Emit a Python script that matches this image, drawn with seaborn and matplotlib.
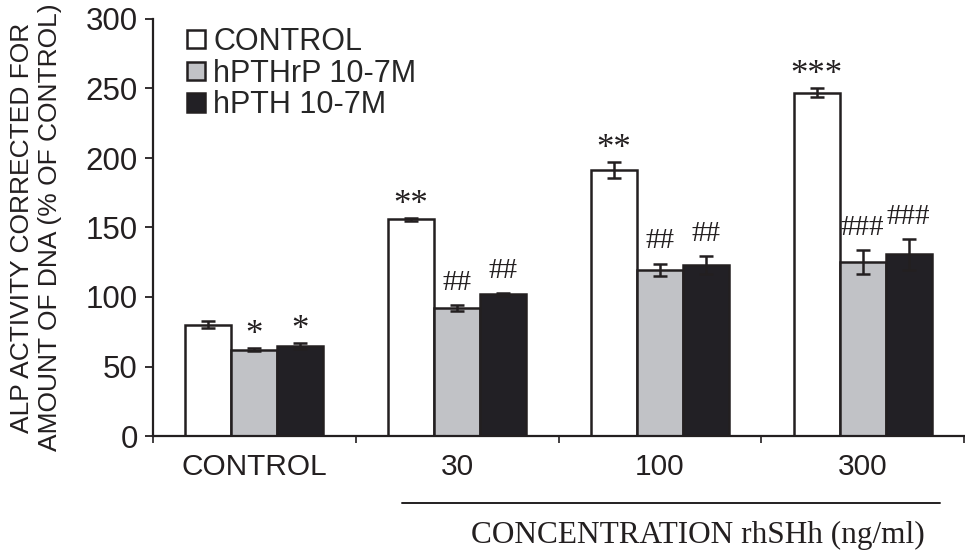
import matplotlib
matplotlib.use("Agg")
import matplotlib.pyplot as plt
import seaborn as sns
import pandas as pd
from matplotlib.lines import Line2D

# values
groups = ["CONTROL", "30", "100", "300"]
treatments = ["CONTROL", "hPTHrP 10-7M", "hPTH 10-7M"]
control_mean = [80, 156, 191.4, 247]
control_err = [2.6, 1, 5.7, 3.4]
pthrp_mean = [62, 92, 119.4, 125.2]
pthrp_err = [1, 2.4, 4.6, 8.6]
pth_mean = [64.5, 102, 123, 130.7]
pth_err = [2.2, 1, 6.5, 11]
control_marks = ["", "**", "**", "***"]
pthrp_marks = ["*", "##", "##", "###"]
pth_marks = ["*", "##", "##", "###"]

means = [control_mean, pthrp_mean, pth_mean]
errs = [control_err, pthrp_err, pth_err]
marks = [control_marks, pthrp_marks, pth_marks]

rows = []
for t, m in zip(treatments, means):
    for g, v in zip(groups, m):
        rows.append({"group": g, "treatment": t, "value": v})
df = pd.DataFrame(rows)

sns.set_style("ticks")
plt.rcParams["font.family"] = ["Liberation Sans", "DejaVu Sans"]
serif = ["Liberation Serif", "DejaVu Serif"]

ink = "#231f20"
colors = ["#ffffff", "#c1c2c6", "#222025"]

fig = plt.figure(figsize=(9.65, 5.51), dpi=100)
ax = fig.add_axes([153 / 965, 115 / 551, 811 / 965, 417 / 551])

sns.barplot(data=df, x="group", y="value", hue="treatment", palette=colors,
            width=0.68, edgecolor=ink, linewidth=1.8, errorbar=None, ax=ax,
            saturation=1)

for cont, e, mk in zip(ax.containers, errs, marks):
    xs = [p.get_x() + p.get_width() / 2 for p in cont]
    hs = [p.get_height() for p in cont]
    ax.errorbar(xs, hs, yerr=e, fmt="none", ecolor=ink, elinewidth=1.8,
                capsize=5, capthick=1.8, zorder=5)
    for x, h, er, s in zip(xs, hs, e, mk):
        if not s:
            continue
        if s.startswith("*"):
            size, off = 25, 3
        else:
            size, off = 21, 11
        ax.annotate(s, (x, h + er), xytext=(0, off), textcoords="offset points",
                    ha="center", va="baseline", fontsize=size, color=ink,
                    family=serif)

ax.set_ylim(0, 300)
ax.set_yticks([0, 50, 100, 150, 200, 250, 300])
ax.set_xlim(-0.5, 3.5)
ax.set_xticks([-0.5, 0.5, 1.5, 2.5, 3.5])
ax.set_xticklabels([])
ax.set_xticks([0, 1, 2, 3], minor=True)
ax.set_xticklabels(groups, minor=True)
ax.tick_params(axis="x", which="major", length=5, width=1.2, color=ink)
ax.tick_params(axis="x", which="minor", length=0, pad=12, labelsize=21.5, labelcolor=ink)
ax.tick_params(axis="y", length=6, width=1.3, color=ink, pad=5, labelsize=22.5, labelcolor=ink)
for s in ["left", "bottom"]:
    ax.spines[s].set_linewidth(1.6)
    ax.spines[s].set_color(ink)
sns.despine(ax=ax)

ax.set_xlabel("")
ax.set_ylabel("ALP ACTIVITY CORRECTED FOR\nAMOUNT OF DNA (% OF CONTROL)",
              fontsize=19, color=ink, linespacing=1.2)
ax.yaxis.set_label_coords(-0.112, 0.5)

h, l = ax.get_legend_handles_labels()
ax.legend(h, l, loc="upper left", bbox_to_anchor=(0.027, 1.01), frameon=False,
          fontsize=22, handlelength=0.6, handleheight=0.55, handletextpad=0.25,
          labelspacing=0.05, borderaxespad=0)

fig.add_artist(Line2D([402 / 965, 940 / 965], [1 - 503 / 551, 1 - 503 / 551],
                      color=ink, linewidth=1.4))
fig.text(698 / 965, 1 - 535 / 551, "CONCENTRATION rhSHh (ng/ml)", ha="center",
         va="center", fontsize=22.5, color=ink, family=serif)

fig.savefig("out.png", dpi=100)
